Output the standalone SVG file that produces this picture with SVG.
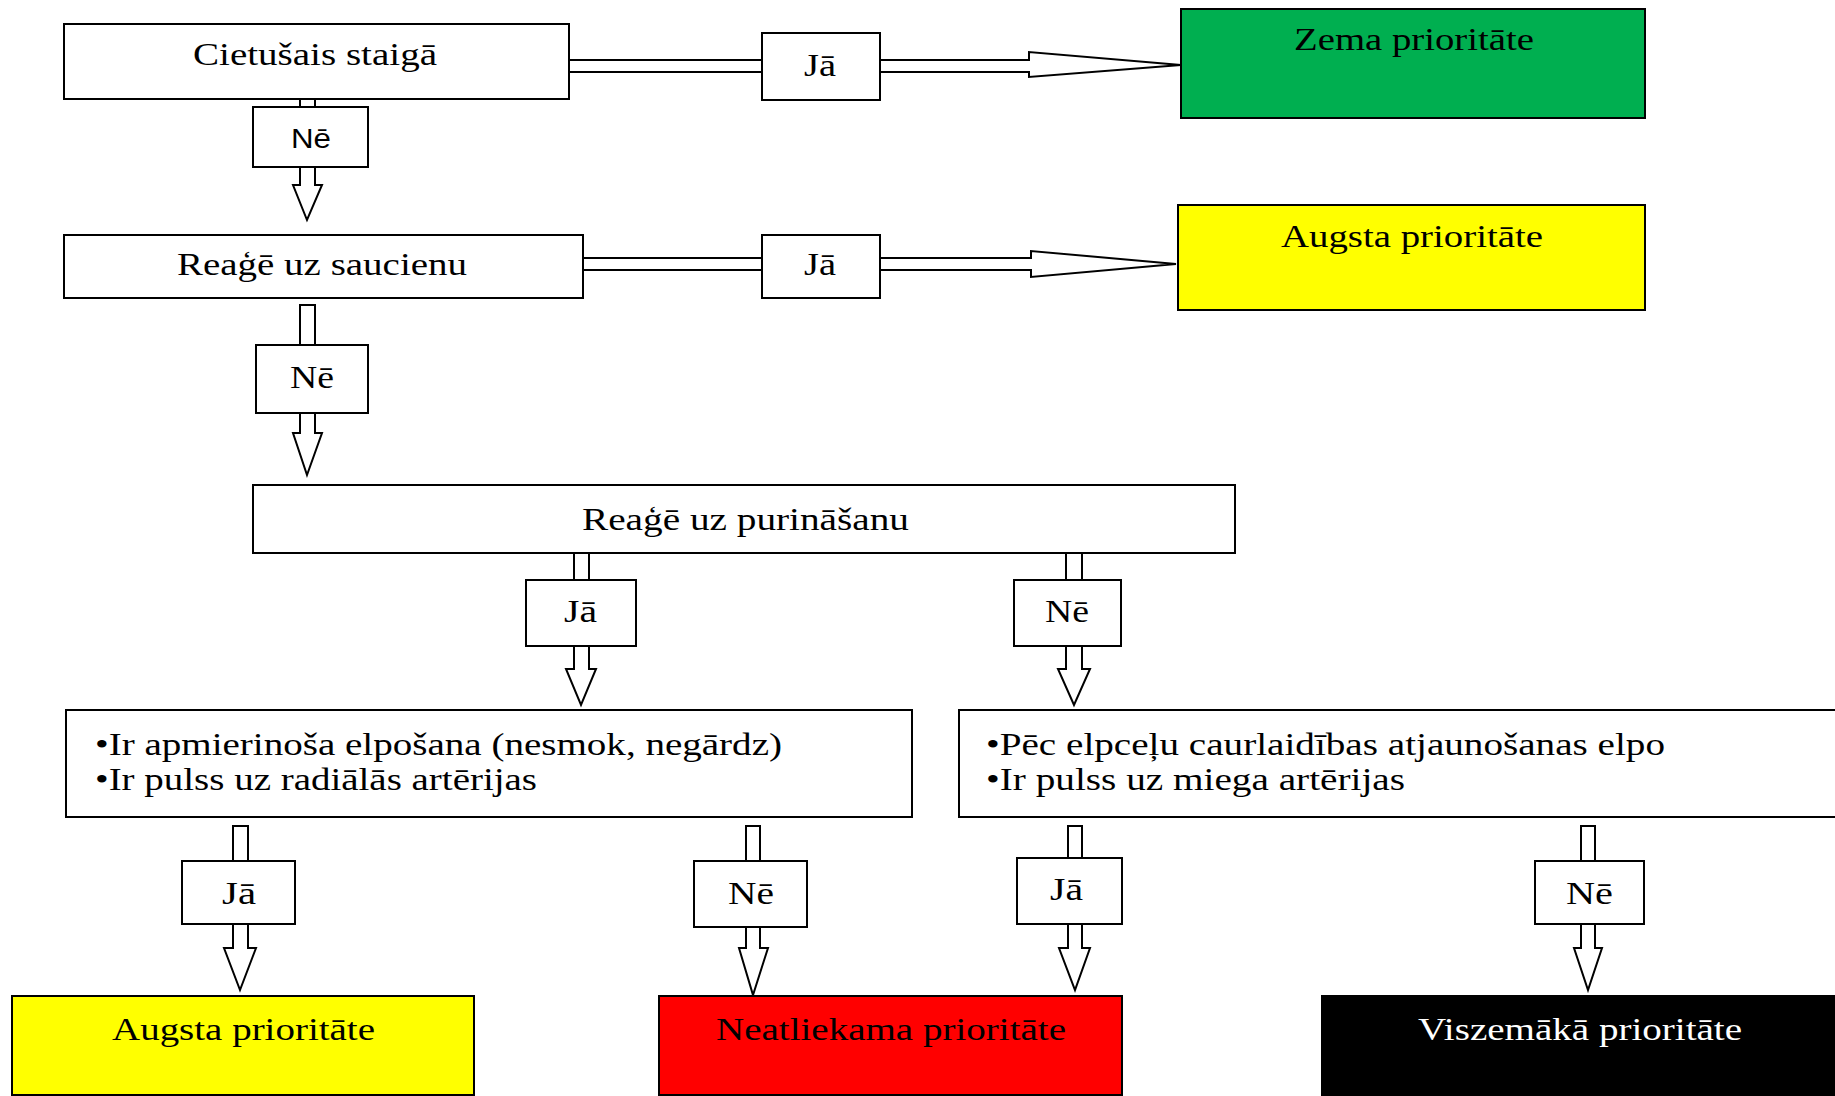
<svg xmlns="http://www.w3.org/2000/svg" width="1835" height="1096" viewBox="0 0 1835 1096">
<style>
.box{fill:#fff;stroke:#000;stroke-width:2}
.conn{fill:#fff;stroke:#000;stroke-width:2;stroke-linejoin:miter}
.line{fill:none;stroke:#000;stroke-width:2}
.t{font-family:"Liberation Serif","Times New Roman",serif;font-size:31px;fill:#000}
.c{text-anchor:middle}
.s{font-family:"Liberation Sans",Arial,sans-serif;font-size:28px;fill:#000}
.w{fill:#fff}
</style>
<rect width="1835" height="1096" fill="#fff"/>
<g id="connectors">
<path class="line" d="M569,60 H762 M569,72 H762"/>
<path class="conn" d="M880,60 H1029 V52 L1181,65 L1029,77 V72 H880"/>
<path class="line" d="M583,258 H762 M583,270 H762"/>
<path class="conn" d="M880,258 H1031 V251 L1176,264 L1031,277 V270 H880"/>
<rect class="conn" x="300" y="99" width="15" height="8"/>
<path class="conn" d="M300,167 V185 H293 L307,220 L322,185 H315 V167"/>
<rect class="conn" x="300" y="305" width="15" height="40"/>
<path class="conn" d="M300,413 V433 H293 L307,475 L322,433 H315 V413"/>
<rect class="conn" x="574" y="553" width="15" height="27"/>
<path class="conn" d="M574,646 V669 H566 L581,705 L596,669 H589 V646"/>
<rect class="conn" x="1066" y="553" width="16" height="27"/>
<path class="conn" d="M1066,646 V669 H1058 L1074,705 L1090,669 H1082 V646"/>
<rect class="conn" x="233" y="826" width="15" height="35"/>
<path class="conn" d="M233,924 V948 H224 L240,990 L256,948 H248 V924"/>
<rect class="conn" x="746" y="826" width="14" height="35"/>
<path class="conn" d="M746,927 V948 H739 L753,995 L768,948 H760 V927"/>
<rect class="conn" x="1068" y="826" width="14" height="32"/>
<path class="conn" d="M1068,924 V948 H1059 L1075,990 L1090,948 H1082 V924"/>
<rect class="conn" x="1581" y="826" width="14" height="35"/>
<path class="conn" d="M1581,924 V948 H1574 L1588,990 L1602,948 H1595 V924"/>
</g>
<g id="n-walks"><rect class="box" x="64" y="24" width="505" height="75"/><text class="t" x="193" y="65" textLength="244" lengthAdjust="spacingAndGlyphs">Cietušais staigā</text></g>
<g id="l-ne1"><rect class="box" x="253" y="107" width="115" height="60"/><text class="s" x="291" y="148" textLength="40" lengthAdjust="spacingAndGlyphs">Nē</text></g>
<g id="l-ja1"><rect class="box" x="762" y="33" width="118" height="67"/><text class="t" x="804" y="76" textLength="32" lengthAdjust="spacingAndGlyphs">Jā</text></g>
<g id="n-low"><rect class="box" x="1181" y="9" width="464" height="109" style="fill:#00af50"/><text class="t" x="1294" y="50" textLength="240" lengthAdjust="spacingAndGlyphs">Zema prioritāte</text></g>
<g id="n-call"><rect class="box" x="64" y="235" width="519" height="63"/><text class="t" x="177" y="275" textLength="290" lengthAdjust="spacingAndGlyphs">Reaģē uz saucienu</text></g>
<g id="l-ja2"><rect class="box" x="762" y="235" width="118" height="63"/><text class="t" x="804" y="275" textLength="32" lengthAdjust="spacingAndGlyphs">Jā</text></g>
<g id="n-high1"><rect class="box" x="1178" y="205" width="467" height="105" style="fill:#ffff00"/><text class="t" x="1281" y="247" textLength="262" lengthAdjust="spacingAndGlyphs">Augsta prioritāte</text></g>
<g id="l-ne2"><rect class="box" x="256" y="345" width="112" height="68"/><text class="t" x="290" y="388" textLength="44" lengthAdjust="spacingAndGlyphs">Nē</text></g>
<g id="n-shake"><rect class="box" x="253" y="485" width="982" height="68"/><text class="t" x="582" y="530" textLength="327" lengthAdjust="spacingAndGlyphs">Reaģē uz purināšanu</text></g>
<g id="l-ja3"><rect class="box" x="526" y="580" width="110" height="66"/><text class="t" x="564" y="622" textLength="33" lengthAdjust="spacingAndGlyphs">Jā</text></g>
<g id="l-ne3"><rect class="box" x="1014" y="580" width="107" height="66"/><text class="t" x="1045" y="622" textLength="44" lengthAdjust="spacingAndGlyphs">Nē</text></g>
<g id="n-breath1"><rect class="box" x="66" y="710" width="846" height="107"/><text class="t" x="95" y="755" textLength="687" lengthAdjust="spacingAndGlyphs">•Ir apmierinoša elpošana (nesmok, negārdz)</text><text class="t" x="95" y="790" textLength="442" lengthAdjust="spacingAndGlyphs">•Ir pulss uz radiālās artērijas</text></g>
<g id="n-breath2"><rect class="box" x="959" y="710" width="890" height="107"/><text class="t" x="986" y="755" textLength="679" lengthAdjust="spacingAndGlyphs">•Pēc elpceļu caurlaidības atjaunošanas elpo</text><text class="t" x="986" y="790" textLength="419" lengthAdjust="spacingAndGlyphs">•Ir pulss uz miega artērijas</text></g>
<g id="l-ja4"><rect class="box" x="182" y="861" width="113" height="63"/><text class="t" x="222" y="904" textLength="34" lengthAdjust="spacingAndGlyphs">Jā</text></g>
<g id="l-ne4"><rect class="box" x="694" y="861" width="113" height="66"/><text class="t" x="728" y="904" textLength="46" lengthAdjust="spacingAndGlyphs">Nē</text></g>
<g id="l-ja5"><rect class="box" x="1017" y="858" width="105" height="66"/><text class="t" x="1050" y="900" textLength="33" lengthAdjust="spacingAndGlyphs">Jā</text></g>
<g id="l-ne5"><rect class="box" x="1535" y="861" width="109" height="63"/><text class="t" x="1566" y="904" textLength="47" lengthAdjust="spacingAndGlyphs">Nē</text></g>
<g id="n-high2"><rect class="box" x="12" y="996" width="462" height="99" style="fill:#ffff00"/><text class="t" x="112" y="1040" textLength="263" lengthAdjust="spacingAndGlyphs">Augsta prioritāte</text></g>
<g id="n-urgent"><rect class="box" x="659" y="996" width="463" height="99" style="fill:#ff0000"/><text class="t" x="716" y="1040" textLength="350" lengthAdjust="spacingAndGlyphs">Neatliekama prioritāte</text></g>
<g id="n-lowest"><rect class="box" x="1322" y="996" width="530" height="99" style="fill:#000"/><text class="t w" x="1418" y="1040" textLength="324" lengthAdjust="spacingAndGlyphs">Viszemākā prioritāte</text></g>
</svg>
